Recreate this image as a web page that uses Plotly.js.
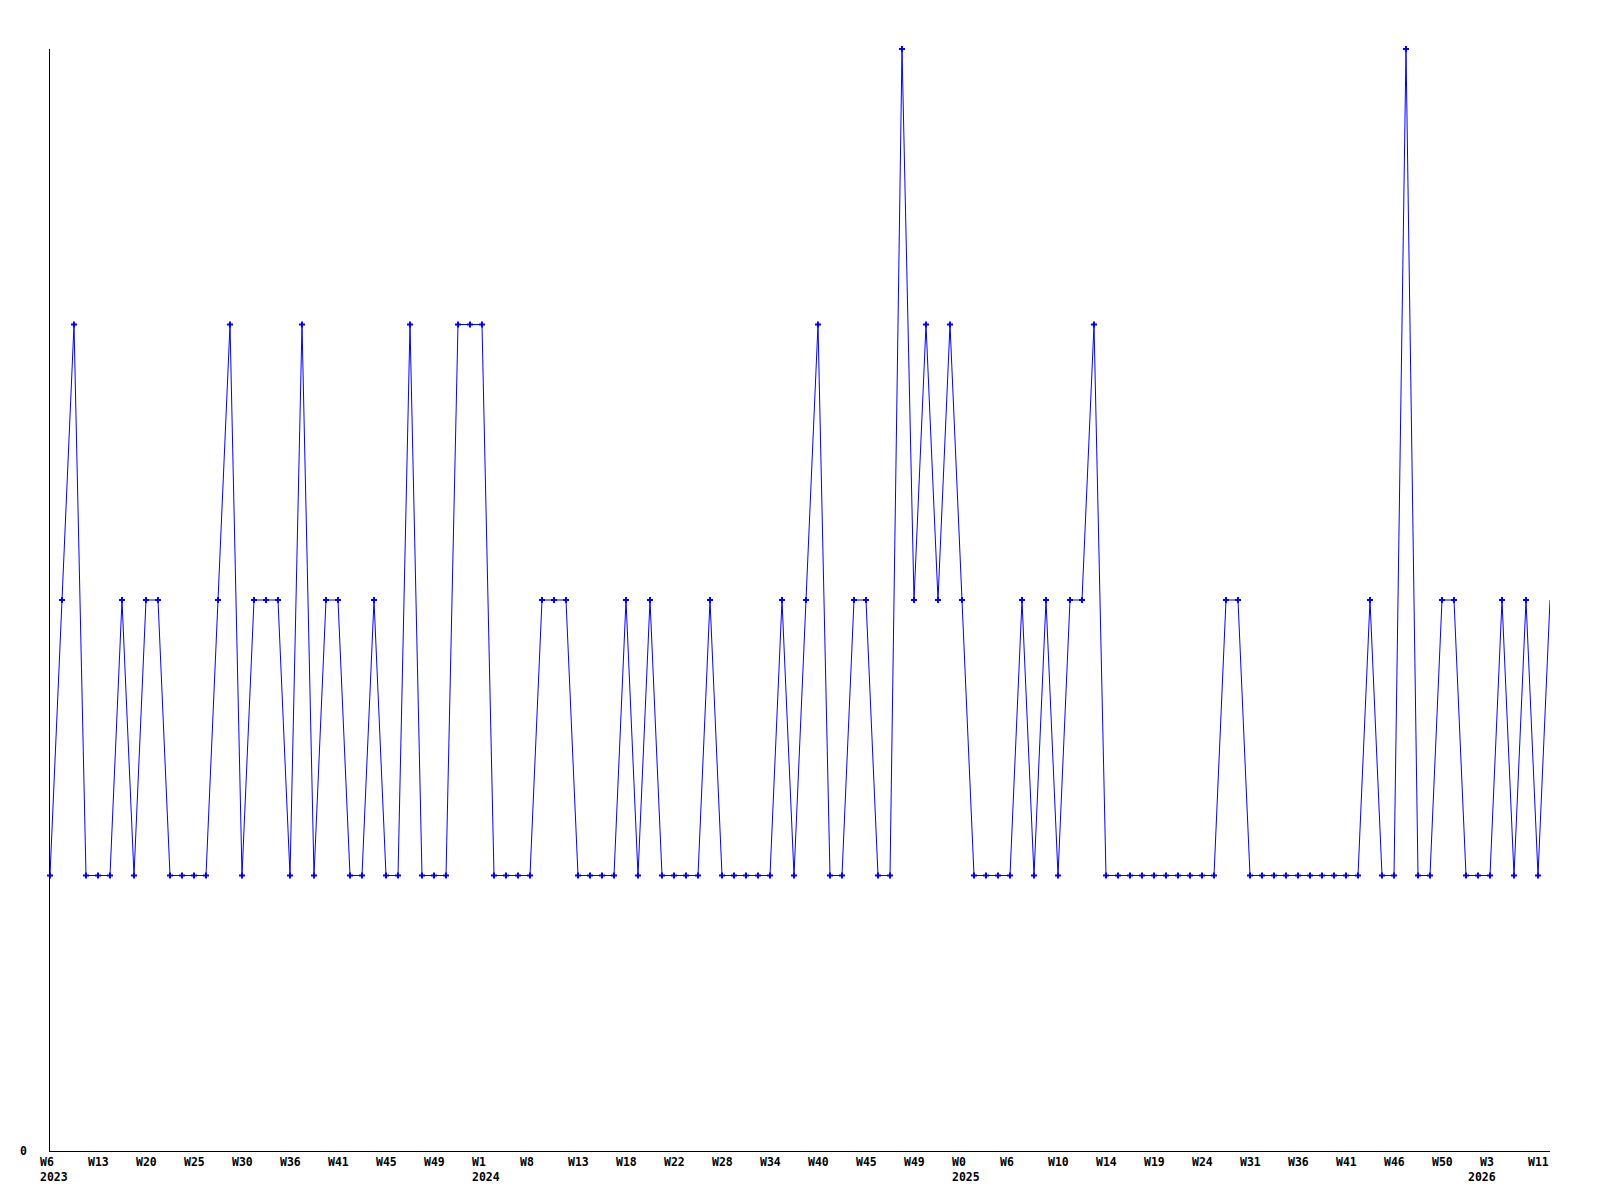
<!DOCTYPE html>
<html>
<head>
<meta charset="utf-8">
<script src="https://cdn.plot.ly/plotly-3.0.1.min.js"></script>
<style>html,body{margin:0;padding:0;background:#fff;}#chart{width:1600px;height:1200px;}</style>
</head>
<body>
<div id="chart"></div>
<script>
// Values per sample (index order, left to right)
const values = [
  1,2,3,1,1,1,2,1,2,2,1,1,1,1,2,3,1,2,2,2,
  1,3,1,2,2,1,1,2,1,1,3,1,1,1,3,3,3,1,1,1,
  1,2,2,2,1,1,1,1,2,1,2,1,1,1,1,2,1,1,1,1,
  1,2,1,2,3,1,1,2,2,1,1,4,2,3,2,3,2,1,1,1,
  1,2,1,2,1,2,2,3,1,1,1,1,1,1,1,1,1,1,2,2,
  1,1,1,1,1,1,1,1,1,1,2,1,1,4,1,1,2,2,1,1,
  1,2,1,2,1,2
];
// Week tick labels, one every 4 samples
const tickWeeks = ["W6","W13","W20","W25","W30","W36","W41","W45","W49","W1","W8","W13","W18","W22","W28","W34","W40","W45","W49","W0","W6","W10","W14","W19","W24","W31","W36","W41","W46","W50","W3","W11"];
const tickStep = 4;
// Year labels and the sample index where each is placed
const yearLabels = ["2023","2024","2025","2026"];
const yearIndex = [0, 36, 76, 119];
const yTickLabels = ["0"];

const idx = values.map((v,i)=>i);
const font = {family: "DejaVu Sans Mono, monospace", size: 11.5, color: "#000"};

const annotations = tickWeeks.map((w,i)=>({
  xref: "x", yref: "paper", x: i*tickStep, y: 0,
  xanchor: "left", yanchor: "top", align: "left",
  xshift: -12, yshift: -2, showarrow: false,
  text: "<b>" + w + "</b>", font: font
}));
yearLabels.forEach((t,i)=>annotations.push({
  xref: "x", yref: "paper", x: yearIndex[i], y: 0,
  xanchor: "left", yanchor: "top", align: "left",
  xshift: -12, yshift: -17, showarrow: false,
  text: "<b>" + t + "</b>", font: font
}));
annotations.push({
  xref: "paper", yref: "y", x: 0, y: 0, xanchor: "right", yanchor: "middle",
  xshift: -21, showarrow: false, text: "<b>" + yTickLabels[0] + "</b>", font: font
});

const traces = [
  {x: idx, y: values, type: "scatter", mode: "lines",
   line: {color: "#0000ff", width: 1}, cliponaxis: false, hoverinfo: "skip"},
  {x: idx.slice(0,-1), y: values.slice(0,-1), type: "scatter", mode: "markers",
   marker: {symbol: "cross", size: 5, color: "#0000ff"}, cliponaxis: false}
];

const layout = {
  width: 1600, height: 1200,
  margin: {l: 50, r: 50, t: 49, b: 49, pad: 0},
  paper_bgcolor: "#fff", plot_bgcolor: "#fff",
  showlegend: false,
  font: font,
  xaxis: {range: [0, values.length-1], showgrid: false, zeroline: false,
          showline: true, linecolor: "#000", linewidth: 1, showticklabels: false, ticks: ""},
  yaxis: {range: [0, 4], showgrid: false, zeroline: false,
          showline: true, linecolor: "#000", linewidth: 1, showticklabels: false, ticks: ""},
  annotations: annotations
};
Plotly.newPlot("chart", traces, layout, {staticPlot: true});
</script>
</body>
</html>
